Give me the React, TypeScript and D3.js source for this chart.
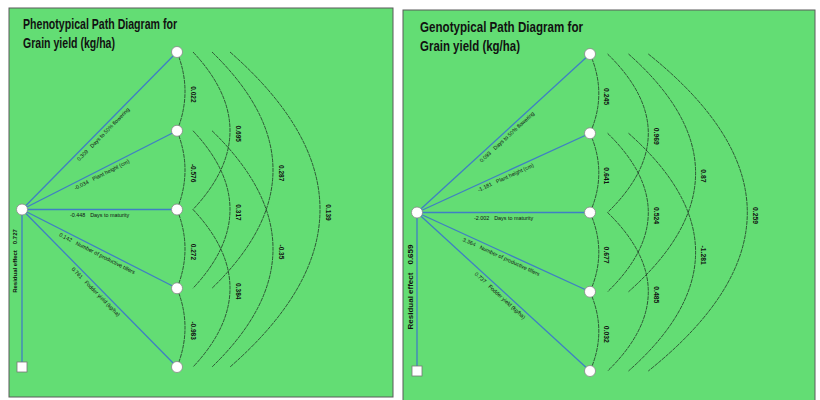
import React from 'react';
import * as d3 from 'd3';

// traits in node order (top to bottom)
const traits = [
  'Days to 50% flowering',
  'Plant height (cm)',
  'Days to maturity',
  'Number of productive tillers',
  'Fodder yield (kg/ha)',
];

// pairs of traits joined by correlation arcs, by span
const pairs = [
  [0, 1], [1, 2], [2, 3], [3, 4],
  [0, 2], [1, 3], [2, 4],
  [0, 3], [1, 4],
  [0, 4],
];

const phenoDirect = ['0.309', '-0.034', '-0.448', '0.142', '0.761'];
const phenoCorr = ['0.022', '-0.576', '0.272', '-0.983', '0.695', '0.317', '0.384', '0.287', '-0.35', '0.139'];
const phenoResidual = '0.727';

const genoDirect = ['0.093', '-1.181', '-2.002', '3.364', '0.737'];
const genoCorr = ['0.245', '0.641', '0.677', '0.032', '0.969', '0.524', '0.485', '0.87', '-1.281', '0.259'];
const genoResidual = '0.659';

const titles = [
  ['Phenotypical Path Diagram for', 'Grain yield (kg/ha)'],
  ['Genotypical Path Diagram for', 'Grain yield (kg/ha)'],
];

// layout of each panel
const panels = [
  {
    box: [9, 8, 384, 389],
    title: titles[0], titleX: 23, titleY: 29, titleSize: 14, titleW: [154, 92],
    resX: 22, nodeX: 177, top: 52, bottom: 367, hs: 1,
    direct: phenoDirect, corr: phenoCorr, residual: phenoResidual,
    resLabelY: 261, resFont: 6,
  },
  {
    box: [403, 10, 412, 392],
    title: titles[1], titleX: 420, titleY: 32, titleSize: 15, titleW: [163, 100],
    resX: 417, nodeX: 590, top: 54, bottom: 371, hs: 1.1,
    direct: genoDirect, corr: genoCorr, residual: genoResidual,
    resLabelY: 287, resFont: 8,
  },
];

// arc geometry by span (1..4): start offset and peak offset from node column
const spanStart = [0, 16, 35, 53];
const spanPeak = [8, 53, 96, 143];

const GREEN = '#63dd74';
const BLUE = '#3f7fc4';
const ARC = '#1f3524';
const FONT = 'Liberation Sans, Arial, sans-serif';

function Panel({ p }: { p: any }) {
  const [bx, by, bw, bh] = p.box;
  const y = d3.scaleLinear().domain([0, traits.length - 1]).range([p.top, p.bottom]);
  const resY = y(2);

  return (
    <g>
      <rect x={bx} y={by} width={bw} height={bh} fill={GREEN} stroke="#5a5a5a" strokeWidth={1} />
      {p.title.map((t: string, i: number) => (
        <text
          key={i}
          x={p.titleX}
          y={p.titleY + i * 19}
          fontFamily="Liberation Sans Narrow, Arial Narrow, Liberation Sans, sans-serif"
          fontWeight="bold"
          fontSize={p.titleSize}
          textLength={p.titleW[i]}
          lengthAdjust="spacingAndGlyphs"
          fill="#111"
        >
          {t}
        </text>
      ))}

      {/* correlation arcs */}
      {pairs.map(([a, b], i) => {
        const span = b - a - 1;
        const sx = p.nodeX + spanStart[span] * p.hs;
        const px = p.nodeX + spanPeak[span] * p.hs;
        const ya = y(a);
        const yb = y(b);
        const path = d3.path();
        path.moveTo(sx, ya);
        path.quadraticCurveTo(2 * px - sx, (ya + yb) / 2, sx, yb);
        const lx = px + 8;
        const ly = (ya + yb) / 2 + 3;
        return (
          <g key={i}>
            <path d={path.toString()} fill="none" stroke={ARC} strokeWidth={0.8} strokeDasharray="4 0.8" />
            <text
              transform={`translate(${lx},${ly}) rotate(90)`}
              textAnchor="middle"
              dominantBaseline="central"
              fontFamily={FONT}
              fontWeight="bold"
              fontSize={6.5 * (p.hs > 1 ? 1.05 : 1)}
              fill="#111"
            >
              {p.corr[i]}
            </text>
          </g>
        );
      })}

      {/* direct effect lines */}
      {traits.map((t, i) => {
        const x2 = p.nodeX;
        const y2 = y(i);
        const mx = (p.resX + x2) / 2;
        const my = (resY + y2) / 2;
        const ang = (Math.atan2(y2 - resY, x2 - p.resX) * 180) / Math.PI;
        return (
          <g key={t}>
            <line x1={p.resX} y1={resY} x2={x2} y2={y2} stroke={BLUE} strokeWidth={1.3} />
            <text
              transform={`translate(${mx},${my}) rotate(${ang})`}
              y={7}
              textAnchor="middle"
              fontFamily={FONT}
              fontSize={5.4}
              fill="#111"
            >
              {p.direct[i]}
              <tspan dx={5}>{t}</tspan>
            </text>
          </g>
        );
      })}

      {/* residual line and square */}
      <line x1={p.resX} y1={resY} x2={p.resX} y2={p.bottom} stroke={BLUE} strokeWidth={1.3} />
      <rect x={p.resX - 5} y={p.bottom - 5} width={10} height={10} fill="#fff" stroke="#777" strokeWidth={0.8} />
      <text
        transform={`translate(${p.resX - 7},${p.resLabelY}) rotate(-90)`}
        textAnchor="middle"
        dominantBaseline="central"
        fontFamily={FONT}
        fontWeight="bold"
        fontSize={p.resFont}
        fill="#111"
      >
        Residual effect
        <tspan dx={p.resFont}>{p.residual}</tspan>
      </text>

      {/* nodes */}
      <circle cx={p.resX} cy={resY} r={5.5} fill="#fff" stroke="#888" strokeWidth={0.8} />
      {traits.map((t, i) => (
        <circle key={t} cx={p.nodeX} cy={y(i)} r={5.5} fill="#fff" stroke="#888" strokeWidth={0.8} />
      ))}
    </g>
  );
}

export default function App() {
  return (
    <svg
      width={820}
      height={400}
      style={{ position: 'absolute', left: 0, top: 0, background: '#fff' }}
    >
      {panels.map((p, i) => (
        <Panel key={i} p={p} />
      ))}
    </svg>
  );
}
